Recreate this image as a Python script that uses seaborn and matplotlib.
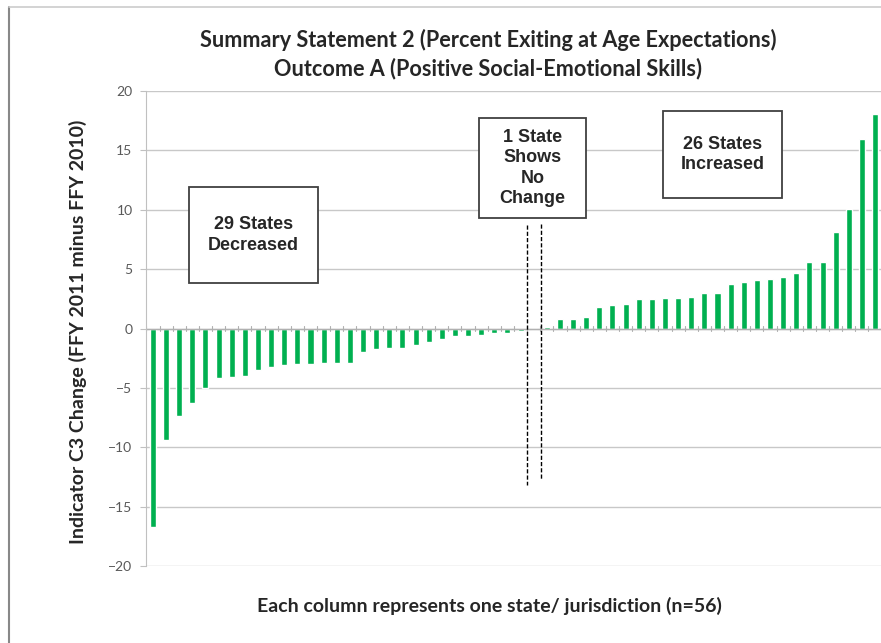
import matplotlib
matplotlib.use("Agg")
import matplotlib.pyplot as plt
from matplotlib.patches import Rectangle
from matplotlib.lines import Line2D
import seaborn as sns
import pandas as pd

# change in indicator C3, one value per state, sorted
decreased = [-16.7, -9.4, -7.4, -6.3, -5.0, -4.2, -4.1, -4.0, -3.5, -3.2,
             -3.1, -3.0, -3.0, -2.9, -2.9, -2.9, -1.95, -1.7, -1.6, -1.6,
             -1.35, -1.1, -0.85, -0.65, -0.6, -0.55, -0.4, -0.4, -0.2]
no_change = [0.0]
increased = [0.1, 0.8, 0.8, 1.0, 1.85, 2.0, 2.05, 2.45, 2.45, 2.55,
             2.55, 2.65, 3.0, 3.0, 3.75, 3.9, 4.1, 4.2, 4.3, 4.65,
             5.6, 5.6, 8.15, 10.05, 16.0, 18.1]
values = decreased + no_change + increased
states = list(range(1, len(values) + 1))

title = "Summary Statement 2 (Percent Exiting at Age Expectations)\nOutcome A (Positive Social-Emotional Skills)"
ylabel = "Indicator C3 Change (FFY 2011 minus FFY 2010)"
xlabel = "Each column represents one state/ jurisdiction (n=56)"
box_labels = ["29 States\nDecreased", "1 State\nShows\nNo\nChange", "26 States\nIncreased"]

df = pd.DataFrame({"state": states, "change": values})

sns.set_style("white")
plt.rcParams["font.family"] = ["Lato", "DejaVu Sans"]

W, H = 881, 643
fig = plt.figure(figsize=(W / 100, H / 100), dpi=100)


def fx(px):
    return px / W


def fy(py):
    return 1 - py / H


ax = fig.add_axes([fx(146.4), fy(566), fx(881.6) - fx(146.4), fy(91) - fy(566)])
sns.barplot(data=df, x="state", y="change", color="#00B050", width=0.46,
            saturation=1, ax=ax, order=states)

ax.set_ylim(-20, 20)
ax.set_xlim(-0.5, len(values) - 0.5)
ax.set_yticks(range(-20, 21, 5))
ax.yaxis.grid(True, color="#c8c8c8", linewidth=1)
ax.set_axisbelow(True)
for s in ["top", "right", "bottom"]:
    ax.spines[s].set_visible(False)
ax.spines["left"].set_color("#c0c0c0")
ax.tick_params(axis="y", length=4, color="#c0c0c0", labelsize=10,
               labelcolor="#595959", direction="out", pad=6, left=True)
ax.set_xticks([])
ax.set_xlabel("")
ax.set_ylabel("")
ax.axhline(0, color="#b0b0b0", linewidth=1, zorder=1)
# small category ticks along the zero line
for i in range(len(values) + 1):
    ax.plot([i - 0.5, i - 0.5], [-0.25, 0.25], color="#b0b0b0", lw=0.8, zorder=1)

# dashed separators around the no-change state
for xd, yt, yb in [(28.46, 8.7, -13.2), (29.53, 8.8, -12.7)]:
    ax.plot([xd, xd], [yt, yb], color="black", lw=1, ls=(0, (3, 1.5)),
            clip_on=False, zorder=5)

fig.text(fx(488), fy(54), title, ha="center", va="center", fontsize=15.6,
         fontweight="bold", family=["Lato", "DejaVu Sans"], linespacing=1.4)
fig.text(fx(78), fy(332), ylabel, ha="center", va="center", rotation=90,
         fontsize=14, fontweight="bold")
fig.text(fx(489), fy(606), xlabel, ha="center", va="center", fontsize=14,
         fontweight="bold")

boxes = [(189, 187, 318, 283), (479, 118, 586, 218), (663, 111, 782, 198)]
for (x0, y0, x1, y1), lab in zip(boxes, box_labels):
    fig.add_artist(Rectangle((fx(x0), fy(y1)), fx(x1) - fx(x0), fy(y0) - fy(y1),
                             transform=fig.transFigure, facecolor="white",
                             edgecolor="#404040", linewidth=1.3, zorder=6))
    fig.text(fx((x0 + x1) / 2), fy((y0 + y1) / 2), lab, ha="center", va="center",
             fontsize=13, fontweight="bold", family="Liberation Sans",
             linespacing=1.25, zorder=7)

# frame of the original screenshot
fig.add_artist(Line2D([fx(8.5), fx(8.5)], [fy(7), 0], color="#888888", lw=1.5,
                      transform=fig.transFigure))
fig.add_artist(Line2D([fx(8.5), 1], [fy(7), fy(7)], color="#cccccc", lw=1.2,
                      transform=fig.transFigure))

fig.savefig("out.png", dpi=100)
